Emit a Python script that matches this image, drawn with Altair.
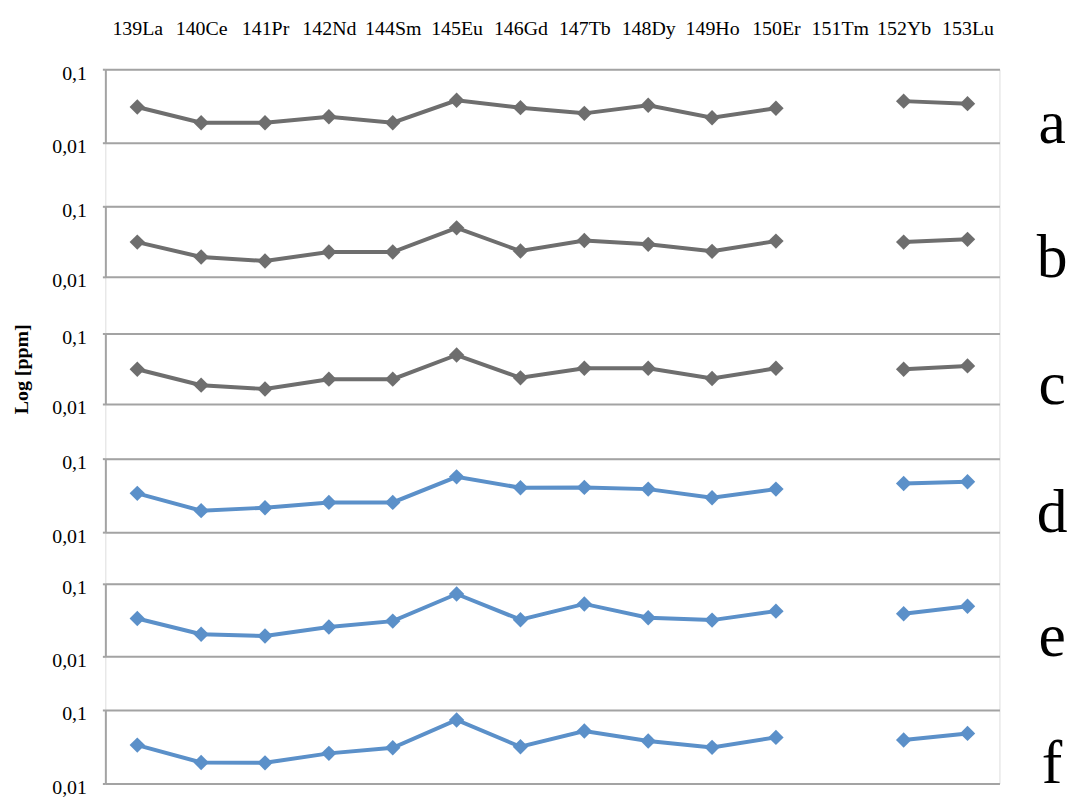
import altair as alt
import pandas as pd

# ---------------- data ----------------
elements = ["139La", "140Ce", "141Pr", "142Nd", "144Sm", "145Eu", "146Gd",
            "147Tb", "148Dy", "149Ho", "150Er", "151Tm", "152Yb", "153Lu"]

panel_labels = ["a", "b", "c", "d", "e", "f"]

series_a = [0.0306, 0.0187, 0.0187, 0.0226, 0.0187, 0.0378, 0.0300,
            0.0251, 0.0323, 0.0219, 0.0294, None, 0.0368, 0.0340]
series_b = [0.0311, 0.0191, 0.0168, 0.0225, 0.0225, 0.0495, 0.0232,
            0.0328, 0.0289, 0.0230, 0.0321, None, 0.0311, 0.0340]
series_c = [0.0311, 0.0185, 0.0163, 0.0225, 0.0225, 0.0495, 0.0235,
            0.0321, 0.0321, 0.0230, 0.0321, None, 0.0311, 0.0347]
series_d = [0.0337, 0.0196, 0.0215, 0.0254, 0.0254, 0.0565, 0.0402,
            0.0406, 0.0385, 0.0294, 0.0385, None, 0.0459, 0.0484]
series_e = [0.0333, 0.0202, 0.0191, 0.0254, 0.0306, 0.0723, 0.0320,
            0.0528, 0.0340, 0.0316, 0.0420, None, 0.0386, 0.0490]
series_f = [0.0333, 0.0193, 0.0191, 0.0257, 0.0306, 0.0731, 0.0316,
            0.0517, 0.0378, 0.0310, 0.0424, None, 0.0390, 0.0480]

all_series = [series_a, series_b, series_c, series_d, series_e, series_f]

ytick_values = [0.01, 0.1]
y_title = "Log [ppm]"

# ---------------- style / layout ----------------
GRAY = "#6e6e6e"
BLUE = "#5b90c9"
line_colors = [GRAY, GRAY, GRAY, BLUE, BLUE, BLUE]

FONT = "Liberation Serif"
AXIS_GRAY = "#a3a3a3"

tops = [68, 206, 334, 460, 586, 713]
bottoms = [142, 277, 405, 534, 659, 787]
PLOT_W = 900
LETTER_X = 953

panels = []
for i, lab in enumerate(panel_labels):
    rows = []
    seg = 0
    for el, v in zip(elements, all_series[i]):
        if v is None:
            seg += 1
            continue
        rows.append({"element": el, "value": v, "segment": seg})
    df = pd.DataFrame(rows)

    ph = bottoms[i] - tops[i]
    cell_h = (tops[i + 1] - tops[i]) if i < len(tops) - 1 else ph

    if i == 0:
        xaxis = alt.Axis(orient="top", title=None, labelAngle=0, domain=False,
                         ticks=False, tickSize=0, grid=False, labelPadding=35,
                         labelFont=FONT, labelFontSize=20, labelColor="black",
                         labelBaseline="alphabetic")
    else:
        xaxis = None

    yaxis_kwargs = dict(
        values=ytick_values,
        labelExpr="replace(toString(datum.value), '.', ',')",
        labelFont=FONT, labelFontSize=20, labelColor="black",
        labelPadding=16, labelOffset=4,
        tickSize=3, tickColor=AXIS_GRAY, tickWidth=2,
        domainColor=AXIS_GRAY, domainWidth=2,
        grid=True, gridColor=AXIS_GRAY, gridWidth=2,
    )
    if i == 2:
        yaxis_kwargs.update(title=y_title, titleFont=FONT, titleFontSize=20,
                            titleFontWeight="bold", titleColor="black",
                            titlePadding=20)
    else:
        yaxis_kwargs.update(title=None)
    yaxis = alt.Axis(**yaxis_kwargs)

    x = alt.X("element:N", sort=elements, scale=alt.Scale(domain=elements),
              axis=xaxis)
    y = alt.Y("value:Q",
              scale=alt.Scale(type="log", domain=[0.01, 0.1], range=[ph, 0]),
              axis=yaxis)

    base = alt.Chart(df)
    line = base.mark_line(color=line_colors[i], strokeWidth=4).encode(
        x=x, y=y, detail="segment:N")
    pts = base.mark_point(shape="diamond", filled=True, size=240,
                          color=line_colors[i], opacity=1).encode(x=x, y=y)
    letter = alt.Chart(pd.DataFrame({"t": [lab]})).mark_text(
        font=FONT, fontSize=62, align="center", baseline="alphabetic",
        color="black").encode(x=alt.value(LETTER_X), y=alt.value(ph), text="t:N")

    panels.append(alt.layer(line, pts, letter).properties(width=PLOT_W, height=cell_h))

chart = alt.vconcat(*panels, spacing=0, bounds="flush").properties(
    padding={"left": 3, "top": 7, "right": 0, "bottom": 0}
).configure_view(stroke=None).configure(background="white")

chart.save("out.html", embed_options={"renderer": "svg", "actions": False})
